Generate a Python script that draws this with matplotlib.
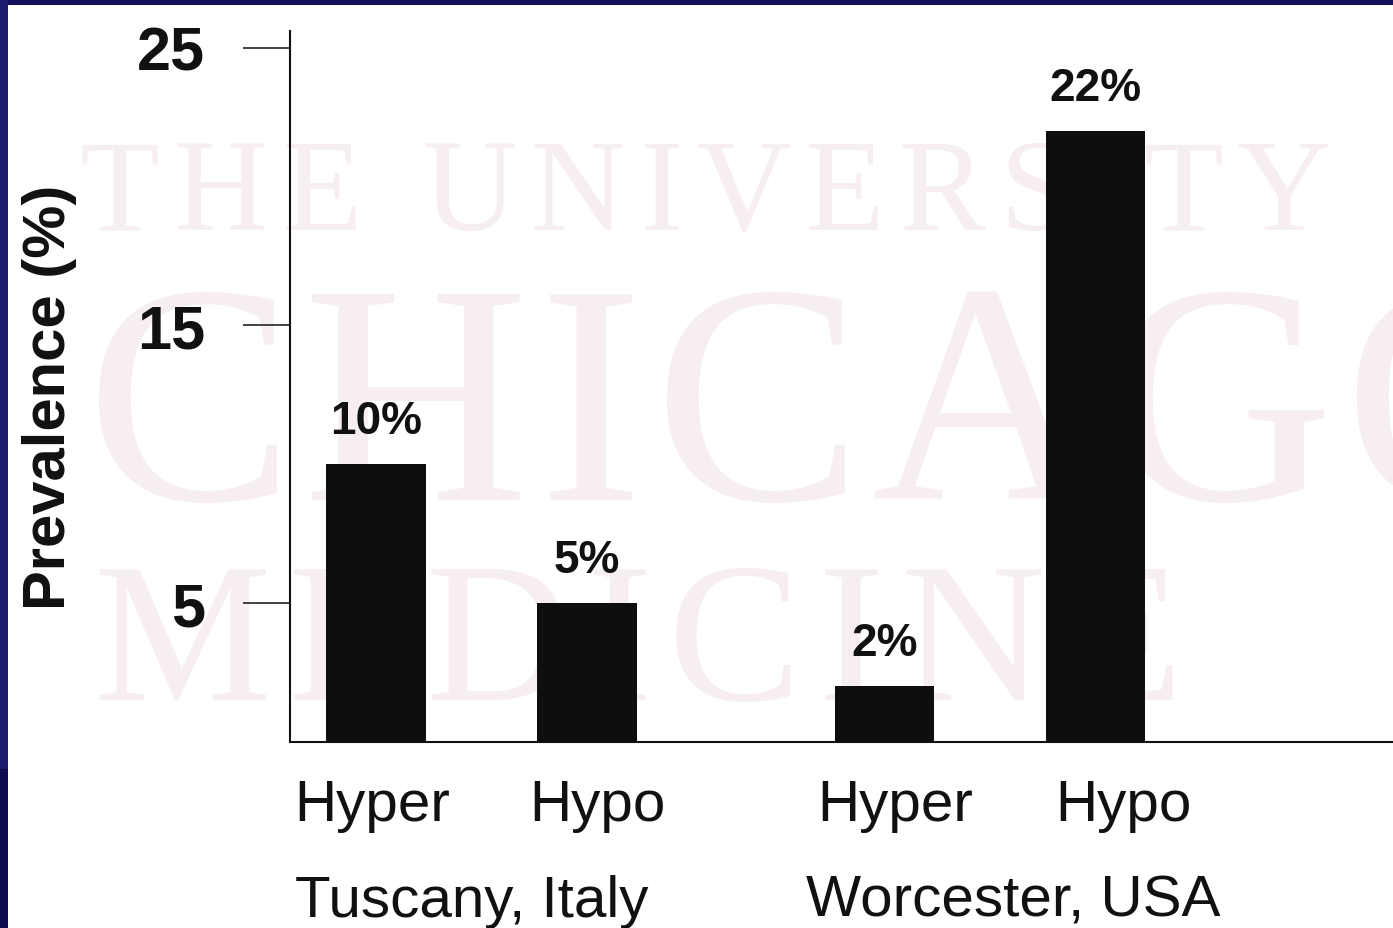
import matplotlib
matplotlib.use("Agg")
import matplotlib.pyplot as plt
from matplotlib import transforms
from matplotlib.patches import Rectangle
from matplotlib.font_manager import FontProperties, findfont
from matplotlib.ft2font import FT2Font

plt.rcParams['font.family'] = ['Liberation Sans', 'DejaVu Sans']

# ---------------- data ----------------
categories = ["Hyper", "Hypo", "Hyper", "Hypo"]
groups = ["Tuscany, Italy", "Worcester, USA"]
prevalence = [10, 5, 2, 22]
yticks = [5, 15, 25]
ylabel = "Prevalence (%)"
watermark_lines = ["THE UNIVERSITY OF", "CHICAGO", "MEDICINE"]

# ---------------- layout ----------------
W, H, DPI = 1393, 929, 100
bar_x = [0.0, 1.0, 2.41, 3.41]
label_x = [-0.02, 1.05, 2.46, 3.54]
group_x = [0.455, 3.02]

fig = plt.figure(figsize=(W / DPI, H / DPI), dpi=DPI, facecolor="white")

# faint watermark (behind the chart)
WM_COLOR = "#f6eef1"
serif_path = findfont(FontProperties(family="Liberation Serif"))


def tracked(s, x_px, base_px, size, track_px):
    ft = FT2Font(serif_path)
    ft.set_size(size, DPI)
    x = x_px
    for ch in s:
        if ch != " " and x < W - 10:
            fig.text(x / W, 1 - base_px / H, ch, fontsize=size,
                     family="Liberation Serif", color=WM_COLOR,
                     ha="left", va="baseline", zorder=-5)
        g = ft.load_char(ord(ch))
        x += g.linearHoriAdvance / 65536 + track_px


tracked(watermark_lines[0], 80, 230, 94, 14)
tracked(watermark_lines[1], 85, 500, 225, 10)
tracked(watermark_lines[2], 93, 700, 144, 16)

# navy slide frame
fig.add_artist(Rectangle((0, 1 - 6 / H), 1, 6 / H, transform=fig.transFigure,
                         color="#13115c", zorder=10, lw=0))
fig.add_artist(Rectangle((0, 0), 8 / W, 1 - 770 / H, transform=fig.transFigure,
                         color="#0d0b4f", zorder=10, lw=0))
fig.add_artist(Rectangle((0, 1 - 770 / H), 8 / W, 770 / H, transform=fig.transFigure,
                         color="#1c1b6b", zorder=10, lw=0))

# ---------------- axes ----------------
ax = fig.add_axes([290 / W, 1 - 743 / H, (W - 290) / W, (743 - 32) / H])
ax.set_facecolor("none")

ax.bar(bar_x, prevalence, width=0.47, color="#0e0e0e", zorder=3)
for x, v in zip(bar_x, prevalence):
    ax.annotate(f"{v}%", xy=(x, v), xytext=(0, 31), textcoords="offset points",
                ha="center", va="center", fontsize=33, fontweight="bold",
                color="#111111")

ax.set_xlim(-0.408, 4.82)
ax.set_ylim(0, 25.6)

for s in ("top", "right"):
    ax.spines[s].set_visible(False)
for s in ("left", "bottom"):
    ax.spines[s].set_color("#111111")
    ax.spines[s].set_linewidth(1.5)

ax.set_yticks(yticks)
ax.set_yticklabels([str(t) for t in yticks], fontsize=44, fontweight="bold")
ax.tick_params(axis="y", length=34, width=1.1, pad=27, direction="out",
               colors="#111111")

ax.set_xticks(label_x)
ax.set_xticklabels(categories, fontsize=42)
ax.tick_params(axis="x", length=0, pad=26, colors="#111111")

ax.set_ylabel(ylabel, fontsize=43, fontweight="bold", color="#111111")
ax.yaxis.set_label_coords(-0.2176, 0.4866)
ax.yaxis.label.set_va("center")

blend = transforms.blended_transform_factory(ax.transData, fig.transFigure)
for gx, g in zip(group_x, groups):
    ax.text(gx, 1 - 917 / H, g, transform=blend, ha="center", va="baseline",
            fontsize=42, color="#111111", clip_on=False)

fig.savefig("out.png", dpi=DPI, facecolor="white")
